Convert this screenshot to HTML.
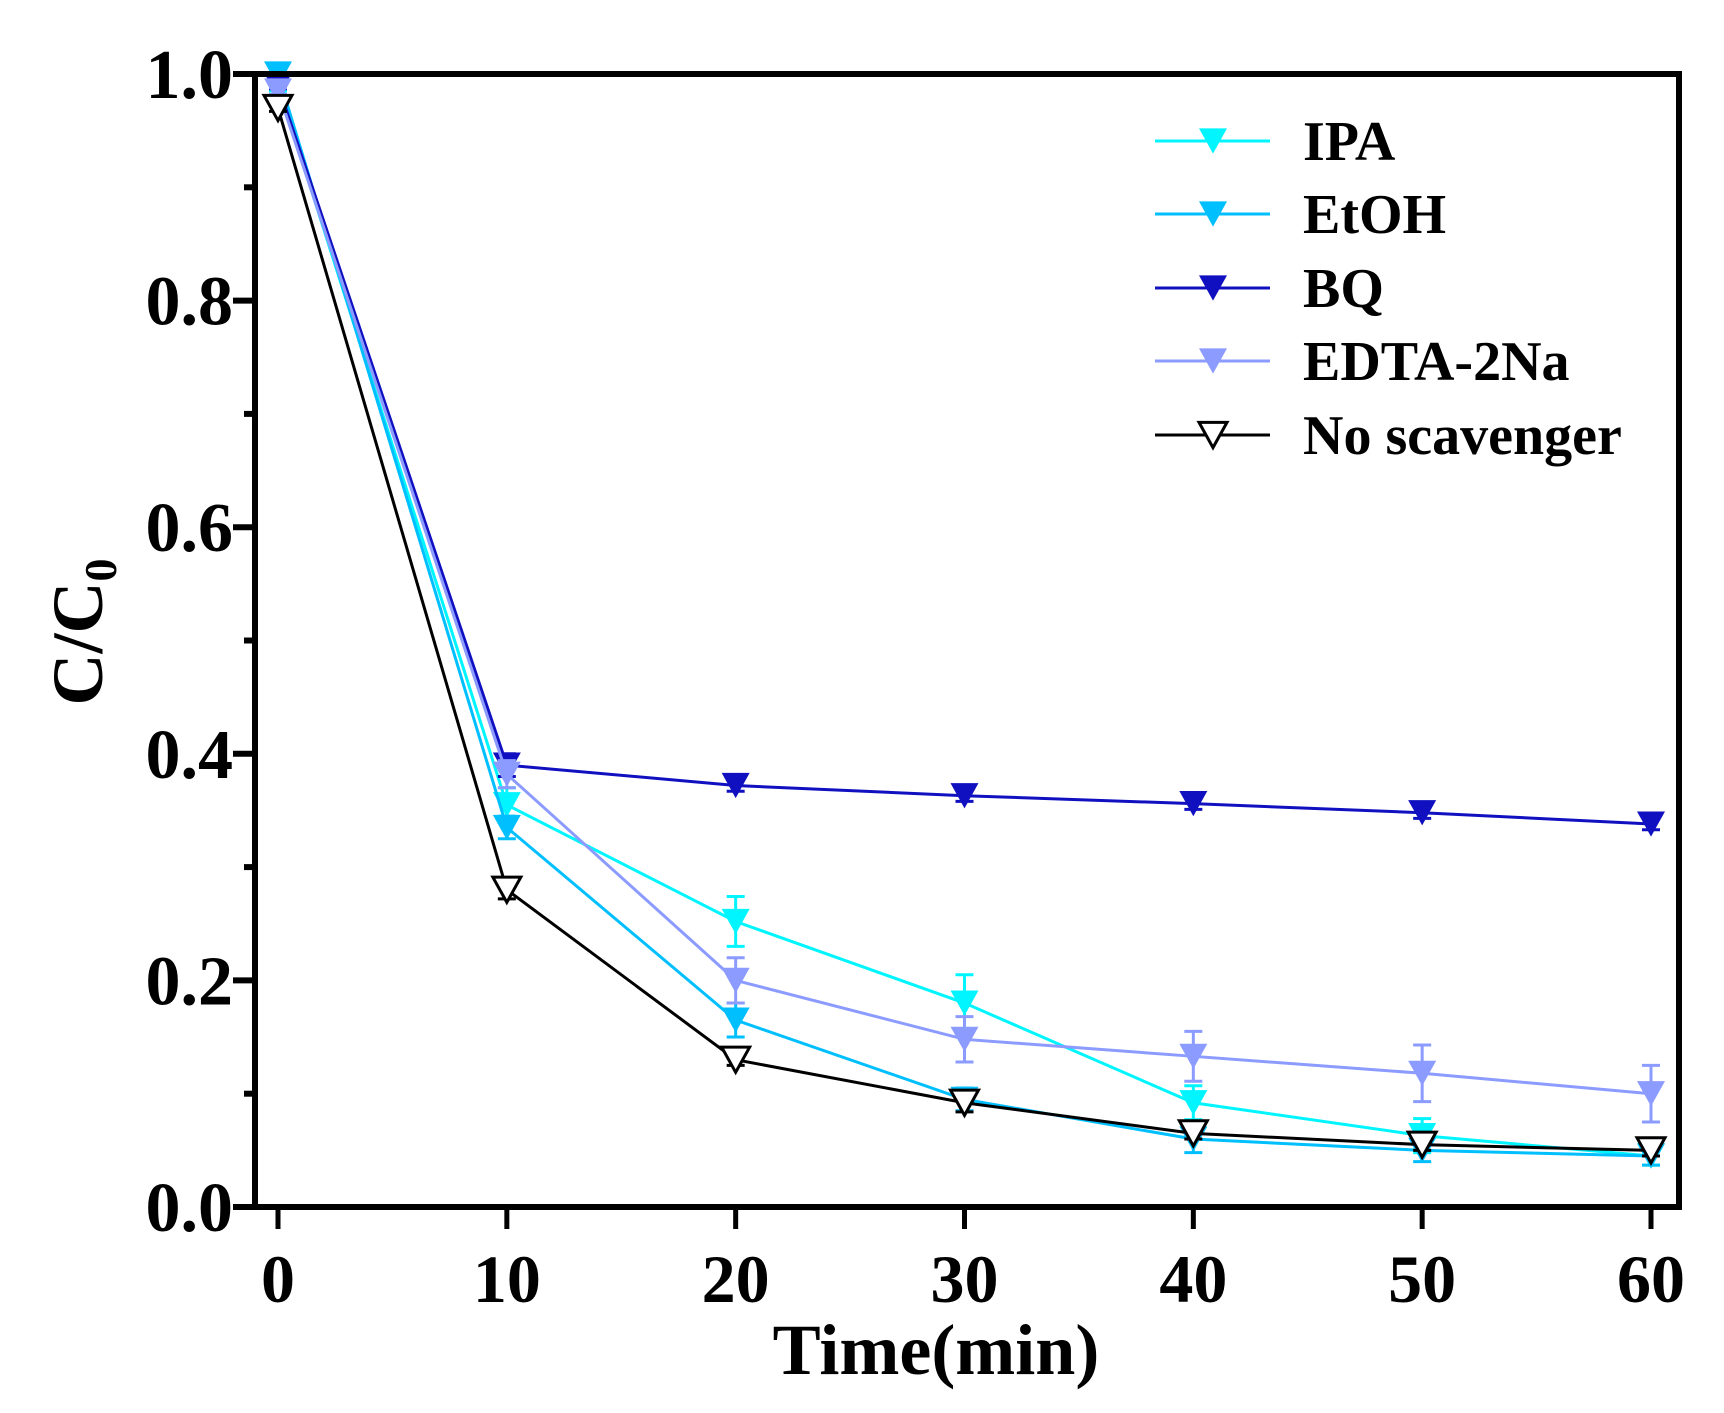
<!DOCTYPE html>
<html><head><meta charset="utf-8"><style>
body{margin:0;background:#fff}
text{font-family:"Liberation Serif",serif;font-weight:bold}
</style></head><body>
<svg id="chart" width="1724" height="1408" xmlns="http://www.w3.org/2000/svg">
<g id="marks"></g>
<g id="axes"></g>
</svg>
<script>
const times=[0,10,20,30,40,50,60];
const yTicks=[0,0.2,0.4,0.6,0.8,1.0];
const yTickLabels=["0.0","0.2","0.4","0.6","0.8","1.0"];
const ipaValues=[0.99,0.355,0.252,0.18,0.092,0.063,0.045];
const ipaErr=[0.005,0.015,0.022,0.025,0.015,0.015,0.008];
const etohValues=[1.0,0.335,0.165,0.095,0.06,0.05,0.045];
const etohErr=[0.003,0.01,0.015,0.01,0.012,0.01,0.008];
const bqValues=[0.99,0.39,0.372,0.363,0.356,0.348,0.338];
const bqErr=[0.003,0.01,0.005,0.005,0.005,0.005,0.005];
const edtaValues=[0.985,0.382,0.2,0.148,0.133,0.118,0.1];
const edtaErr=[0.003,0.012,0.02,0.02,0.022,0.025,0.025];
const noneValues=[0.97,0.28,0.13,0.092,0.065,0.055,0.05];
const noneErr=[0.003,0.008,0.005,0.008,0.005,0.005,0.005];
const seriesNames=["IPA","EtOH","BQ","EDTA-2Na","No scavenger"];

const NS="http://www.w3.org/2000/svg";
const X0=255,X1=1679,Y0=74,Y1=1207;
const xs=v=>278+(v/60)*(1651-278);
const ys=v=>Y1-v*(Y1-Y0);
function el(tag,attrs,parent){const e=document.createElementNS(NS,tag);for(const k in attrs)e.setAttribute(k,attrs[k]);parent.appendChild(e);return e;}
const marks=document.getElementById('marks'),axes=document.getElementById('axes');
const series=[
 {name:"ipa",vals:ipaValues,err:ipaErr,color:"#00F5FF",fill:true},
 {name:"etoh",vals:etohValues,err:etohErr,color:"#00BFFF",fill:true},
 {name:"bq",vals:bqValues,err:bqErr,color:"#1010C0",fill:true},
 {name:"edta",vals:edtaValues,err:edtaErr,color:"#8C9BFF",fill:true},
 {name:"none",vals:noneValues,err:noneErr,color:"#000000",fill:false}
];
function tri(cx,cy,s){const h=s*0.9;return `${cx-s/2},${cy-h/2} ${cx+s/2},${cy-h/2} ${cx},${cy+h/2}`;}
series.forEach(s=>{
  const g=el('g',{},marks);
  
  
  const pts=s.vals.map((v,i)=>xs(times[i])+','+ys(v)).join(' ');
  const line=el('polyline',{points:pts,fill:'none',stroke:s.color,'stroke-width':3},g);
  
  
  s.vals.forEach((v,i)=>{
    const x=xs(times[i]),yt=ys(v+s.err[i]),yb=ys(v-s.err[i]);
    const eb=el('path',{d:`M${x},${yt}V${yb}M${x-9},${yt}H${x+9}M${x-9},${yb}H${x+9}`,stroke:s.color,'stroke-width':3,fill:'none'},g);
    
    
    const m=el('polygon',{points:tri(x,ys(v),28),fill:s.fill?s.color:'#fff',stroke:s.fill?'none':s.color,'stroke-width':3},g);
    
    
  });
});
const frame=el('rect',{x:X0,y:Y0,width:X1-X0,height:Y1-Y0,fill:'none',stroke:'#000','stroke-width':6},axes);


yTicks.forEach((v,i)=>{
  const y=ys(v);
  const t=el('line',{x1:X0-22,x2:X0,y1:y,y2:y,stroke:'#000','stroke-width':6},axes);
  
  
  const l=el('text',{x:X0-22,y:y+24,'text-anchor':'end','font-size':70},axes);
  l.textContent=yTickLabels[i];
  
  
  if(i<yTicks.length-1){
    const ym=ys(v+0.1);
    const mt=el('line',{x1:X0-11,x2:X0,y1:ym,y2:ym,stroke:'#000','stroke-width':6},axes);
    
    
  }
});
times.forEach(v=>{
  const x=xs(v);
  const t=el('line',{x1:x,x2:x,y1:Y1,y2:Y1+22,stroke:'#000','stroke-width':5},axes);
  
  
  const l=el('text',{x:x,y:1302,'text-anchor':'middle','font-size':68},axes);
  l.textContent=String(v);
  
  
});
const xt=el('text',{x:936,y:1374,'text-anchor':'middle','font-size':72},axes);
xt.textContent='Time(min)';


const yt=el('text',{transform:'translate(102,632) rotate(-90)','text-anchor':'middle','font-size':72},axes);
yt.innerHTML='C/C<tspan font-size="46" dy="14">0</tspan>';


const legY=[141,214,288,361,435];
series.forEach((s,i)=>{
  const g=el('g',{},axes);
  
  
  el('line',{x1:1155,x2:1270,y1:legY[i],y2:legY[i],stroke:s.color,'stroke-width':3},g);
  el('polygon',{points:tri(1213,legY[i],28),fill:s.fill?s.color:'#fff',stroke:s.fill?'none':s.color,'stroke-width':3},g);
  const t=el('text',{x:1303,y:legY[i]+19,'font-size':56},g);
  t.textContent=seriesNames[i];
});
</script>
</body></html>
